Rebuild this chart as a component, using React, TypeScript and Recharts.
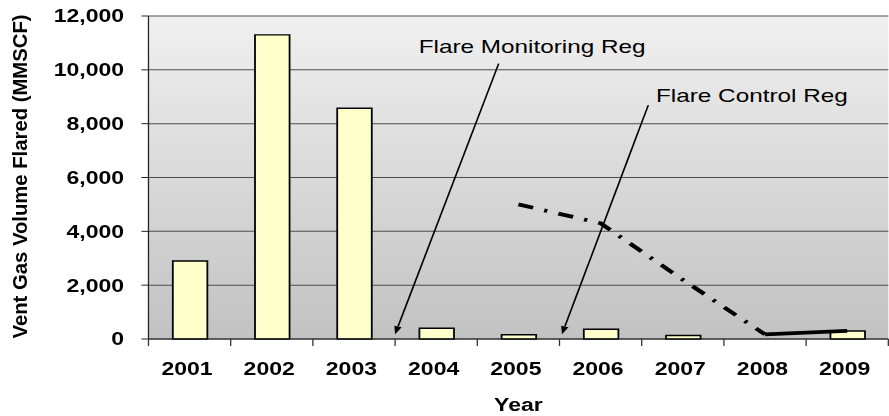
import React from 'react';
import {
  ComposedChart,
  Bar,
  Line,
  XAxis,
  YAxis,
  CartesianGrid,
  ReferenceLine,
} from 'recharts';

// values
const years = ['2001', '2002', '2003', '2004', '2005', '2006', '2007', '2008', '2009'];
const ventGasFlared = [2900, 11300, 8570, 400, 160, 360, 130, 0, 300];
const trendDashDot = [null, null, null, null, 5000, 4300, 2200, 170, null];
const trendSolid = [null, null, null, null, null, null, null, 170, 300];
const yTicks = [0, 2000, 4000, 6000, 8000, 10000, 12000];

// regulation arrows, x in category slots (0 = left edge of 2001), y in MMSCF
const regulations = [
  { label: 'Flare Monitoring Reg', start: { x: 4.26, y: 10230 }, tip: { x: 3.0, y: 180 } },
  { label: 'Flare Control Reg', start: { x: 6.08, y: 8690 }, tip: { x: 5.03, y: 180 } },
];

const data = years.map((year, i) => ({
  year,
  slot: i + 0.5,
  flared: ventGasFlared[i],
  dashdot: trendDashDot[i],
  solid: trendSolid[i],
}));

// the original picture is stretched sideways, so the chart is drawn narrow and scaled
const STRETCH = 1.28;
const W = 695;
const H = 416;
const MARGIN = { top: 16, right: 1, bottom: 0, left: 0 };
const Y_AXIS_W = 116;
const X_AXIS_H = 77;
const PLOT_W = W - MARGIN.left - MARGIN.right - Y_AXIS_W;
const AXIS_Y = H - MARGIN.bottom - X_AXIS_H;
const BAND = PLOT_W / years.length;

const FONT = '"Liberation Sans", Arial, Helvetica, sans-serif';

const labelOffsets = [
  { dx: -62.5, dy: -11 },
  { dx: 6, dy: -3 },
];

const XTick = (props: any) => {
  const { x, payload, index } = props;
  const last = index === years.length - 1;
  return (
    <g>
      <line x1={x - BAND / 2} x2={x - BAND / 2} y1={AXIS_Y} y2={AXIS_Y + 7} stroke="#333" />
      {last && <line x1={x + BAND / 2} x2={x + BAND / 2} y1={AXIS_Y} y2={AXIS_Y + 7} stroke="#333" />}
      <text
        x={x - 2}
        y={AXIS_Y + 36}
        textAnchor="middle"
        fill="#000"
        fontFamily={FONT}
        fontWeight="bold"
        fontSize={18}
      >
        {payload.value}
      </text>
    </g>
  );
};

const YTitle = (props: any) => {
  const vb = props.viewBox || { x: 0, y: MARGIN.top, width: Y_AXIS_W, height: AXIS_Y - MARGIN.top };
  const cx = vb.x + 15.5;
  const cy = vb.y + vb.height / 2 - 1;
  return (
    <text
      x={cx}
      y={cy}
      transform={`rotate(-90 ${cx} ${cy})`}
      textAnchor="middle"
      dominantBaseline="central"
      fill="#000"
      fontFamily={FONT}
      fontWeight="bold"
      fontSize={16}
      textLength={324}
      lengthAdjust="spacingAndGlyphs"
    >
      Vent Gas Volume Flared (MMSCF)
    </text>
  );
};

const arrowShape = (i: number) => (props: any) => {
  const { x1, y1, x2, y2 } = props;
  const ang = Math.atan2(y2 - y1, x2 - x1);
  const len = 8;
  const half = 3;
  const bx = x2 - len * Math.cos(ang);
  const by = y2 - len * Math.sin(ang);
  const px = -Math.sin(ang) * half;
  const py = Math.cos(ang) * half;
  const off = labelOffsets[i];
  return (
    <g>
      <line x1={x1} y1={y1} x2={bx} y2={by} stroke="#000" strokeWidth={1.3} />
      <polygon
        points={`${x2},${y2} ${bx + px},${by + py} ${bx - px},${by - py}`}
        fill="#000"
      />
      <text x={x1 + off.dx} y={y1 + off.dy} fill="#000" fontFamily={FONT} fontSize={19}>
        {regulations[i].label}
      </text>
    </g>
  );
};

export default function App() {
  return (
    <div
      style={{
        position: 'absolute',
        left: 0,
        top: 0,
        width: 889,
        height: 416,
        overflow: 'hidden',
        background: '#fff',
      }}
    >
      <div style={{ width: W, height: H, transform: `scaleX(${STRETCH})`, transformOrigin: '0 0' }}>
        <ComposedChart width={W} height={H} data={data} margin={MARGIN}>
          <defs>
            <linearGradient id="plotBg" x1="0" y1="0" x2="0" y2="1">
              <stop offset="0%" stopColor="#f0f0f0" />
              <stop offset="100%" stopColor="#c2c2c2" />
            </linearGradient>
          </defs>
          <CartesianGrid
            vertical={false}
            stroke="#4e4e4e"
            strokeWidth={1}
            fill="url(#plotBg)"
            fillOpacity={1}
          />
          <XAxis
            dataKey="year"
            height={X_AXIS_H}
            axisLine={{ stroke: '#222' }}
            tickLine={false}
            tick={<XTick />}
            interval={0}
            label={{
              value: 'Year',
              position: 'insideBottom',
              offset: 5,
              fill: '#000',
              fontFamily: FONT,
              fontWeight: 'bold',
              fontSize: 18,
            }}
          />
          <XAxis
            xAxisId="pos"
            dataKey="slot"
            type="number"
            scale="linear"
            domain={[0, 9]}
            ticks={[0, 9]}
            allowDataOverflow
            hide
          />
          <YAxis
            width={Y_AXIS_W}
            domain={[0, 12000]}
            ticks={yTicks}
            interval={0}
            axisLine={{ stroke: '#222' }}
            tickLine={{ stroke: '#222' }}
            tickSize={5.5}
            tickMargin={13.5}
            tickFormatter={(v: number) => v.toLocaleString('en-US')}
            tick={{ fill: '#000', fontFamily: FONT, fontWeight: 'bold', fontSize: 18 }}
            label={<YTitle />}
          />
          <Bar
            dataKey="flared"
            barSize={27}
            fill="#ffffcc"
            stroke="#000"
            strokeWidth={1.4}
            isAnimationActive={false}
          />
          <Line
            dataKey="dashdot"
            type="linear"
            stroke="#000"
            strokeWidth={3.8}
            strokeDasharray="12 9 2.5 9"
            dot={false}
            activeDot={false}
            isAnimationActive={false}
          />
          <Line
            dataKey="solid"
            type="linear"
            stroke="#000"
            strokeWidth={3.8}
            dot={false}
            activeDot={false}
            isAnimationActive={false}
          />
          {regulations.map((r, i) => (
            <ReferenceLine
              key={r.label}
              xAxisId="pos"
              segment={[r.start, r.tip]}
              ifOverflow="visible"
              shape={arrowShape(i)}
            />
          ))}
        </ComposedChart>
      </div>
    </div>
  );
}
